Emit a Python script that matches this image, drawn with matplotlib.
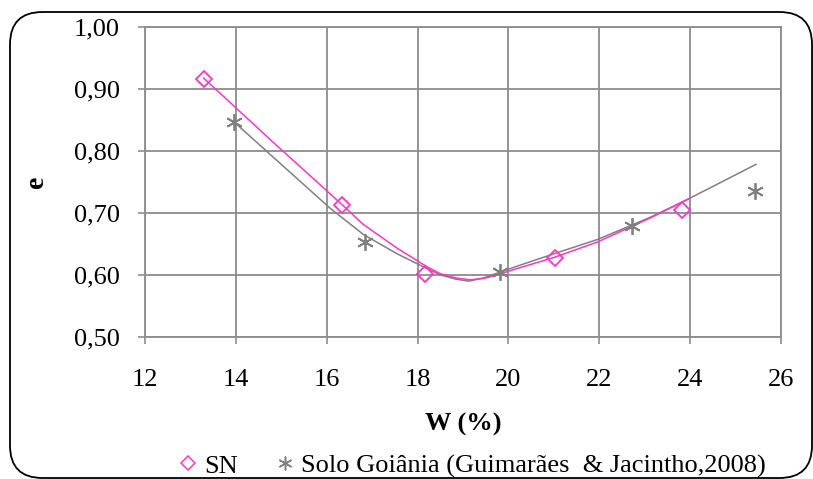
import matplotlib
matplotlib.use("Agg")
import matplotlib.pyplot as plt
from matplotlib.patches import FancyBboxPatch
from matplotlib.lines import Line2D

plt.rcParams['font.family'] = ['Liberation Serif', 'DejaVu Serif']

# measured points
sn_w = [13.29, 16.34, 18.17, 21.02, 23.83]
sn_e = [0.916, 0.713, 0.602, 0.627, 0.704]
goi_w = [13.95, 16.85, 19.81, 22.71, 25.43]
goi_e = [0.847, 0.653, 0.604, 0.678, 0.735]

# trend curves
sn_fit_w = [13.29, 14.80, 16.34, 16.81, 17.55, 18.21, 18.50, 18.85, 19.16,
            19.50, 19.83, 20.27, 21.00, 21.96, 23.13, 23.98]
sn_fit_e = [0.917, 0.815, 0.713, 0.681, 0.643, 0.613, 0.602, 0.595, 0.592,
            0.595, 0.602, 0.612, 0.628, 0.653, 0.692, 0.723]
goi_fit_w = [13.95, 16.08, 16.81, 17.55, 18.21, 18.50, 18.85, 19.13, 19.45,
             19.72, 20.27, 21.00, 21.96, 23.13, 23.90, 25.45]
goi_fit_e = [0.847, 0.707, 0.665, 0.634, 0.610, 0.600, 0.593, 0.590, 0.595,
             0.602, 0.616, 0.634, 0.657, 0.693, 0.720, 0.778]

pink = '#FF33CC'
grey = '#808080'

fig = plt.figure(figsize=(8.13, 4.79), dpi=100)
ax = fig.add_axes([145/813, 1 - 337/479, (781 - 145)/813, (337 - 26.5)/479])

ax.plot(goi_fit_w, goi_fit_e, color=grey, lw=1.1, zorder=3)
ax.plot(sn_fit_w, sn_fit_e, color=pink, lw=1.1, zorder=4)
ax.plot(goi_w, goi_e, ls='none', marker=(6, 2, 0), ms=12, mew=1.3,
        color=grey, zorder=5)
ax.plot(sn_w, sn_e, ls='none', marker='D', ms=8, mew=1.3,
        mfc='none', mec=pink, zorder=6)

ax.set_xlim(12, 26)
ax.set_ylim(0.5, 1.0)
ax.set_xticks(range(12, 27, 2))
ax.set_yticks([0.5, 0.6, 0.7, 0.8, 0.9, 1.0])
ax.set_yticklabels(['0,50', '0,60', '0,70', '0,80', '0,90', '1,00'])
ax.grid(True, color='#8c8c8c', lw=1.3)
ax.set_axisbelow(True)
for s in ax.spines.values():
    s.set_color('#8c8c8c')
    s.set_linewidth(1.3)
ax.tick_params(direction='out', length=5, width=1.2, color='#8c8c8c',
               labelsize=19)
ax.tick_params(axis='y', pad=13)
ax.tick_params(axis='x', pad=18)

ax.set_xlabel('W (%)', fontsize=19, fontweight='bold', labelpad=16)
ax.set_ylabel('e', fontsize=20, fontweight='bold', labelpad=18)

handles = [
    Line2D([], [], ls='none', marker='D', ms=7, mew=1.1, mfc='none', mec=pink),
    Line2D([], [], ls='none', marker=(6, 2, 0), ms=10, mew=1.1, color=grey),
]
fig.legend(handles, ['SN', 'Solo Goiânia (Guimarães  & Jacintho,2008)'],
           loc='center', bbox_to_anchor=(0.58, 0.027), ncol=2, frameon=False,
           fontsize=19, handlelength=0.8, handletextpad=0.2, columnspacing=1.4,
           borderpad=0)

border = FancyBboxPatch((10/813, 1 - 478/479), (812 - 10)/813, (478 - 12)/479,
                        boxstyle='round,pad=0,rounding_size=0.04',
                        transform=fig.transFigure, fill=False,
                        ec='black', lw=1.3, mutation_aspect=813/479)
fig.patches.append(border)

fig.savefig('out.png', dpi=100)
